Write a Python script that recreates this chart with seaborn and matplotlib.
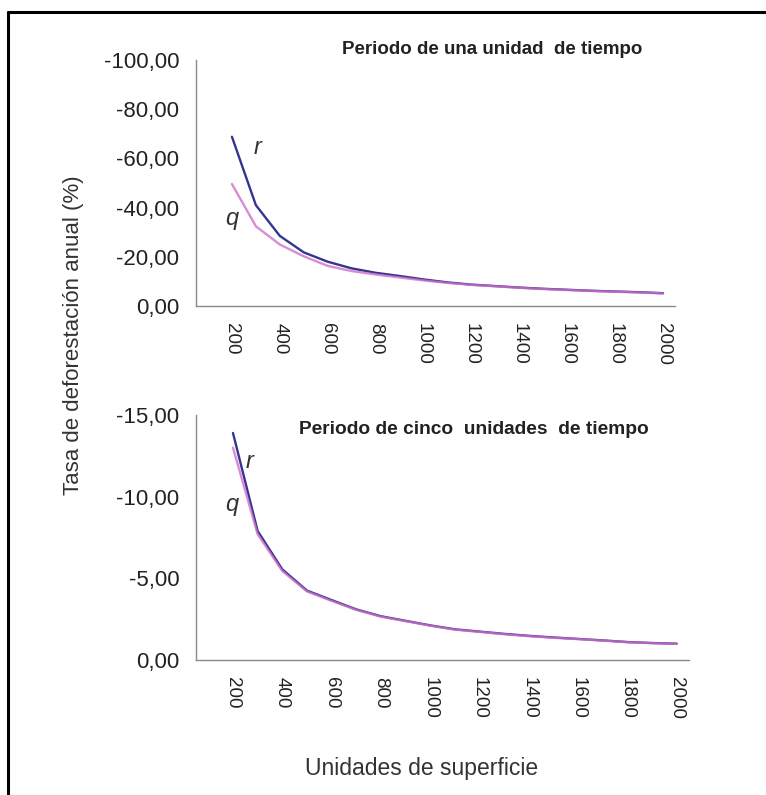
import matplotlib
matplotlib.use("Agg")
import matplotlib.pyplot as plt
from matplotlib.ticker import FixedLocator, FuncFormatter
from matplotlib.lines import Line2D
import numpy as np
import pandas as pd
import seaborn as sns

# Surface units (x axis categories)
superficie = [200, 300, 400, 500, 600, 700, 800, 900, 1000, 1100,
              1200, 1300, 1400, 1500, 1600, 1700, 1800, 1900, 2000]
x_tick_labels = [200, 400, 600, 800, 1000, 1200, 1400, 1600, 1800, 2000]

# Annual deforestation rate (%), one time-unit period
r_una = [-68.8, -41.0, -28.5, -21.8, -18.0, -15.3, -13.5, -12.2, -10.8, -9.6,
         -8.7, -8.1, -7.5, -7.0, -6.6, -6.2, -5.9, -5.6, -5.2]
q_una = [-49.6, -32.4, -25.0, -20.2, -16.3, -14.2, -12.8, -11.6, -10.4, -9.4,
         -8.6, -8.0, -7.4, -6.9, -6.5, -6.1, -5.8, -5.5, -5.1]

# Annual deforestation rate (%), five time-unit period
r_cinco = [-13.9, -7.9, -5.55, -4.25, -3.67, -3.10, -2.68, -2.40, -2.12, -1.88,
           -1.74, -1.60, -1.48, -1.38, -1.29, -1.20, -1.10, -1.04, -1.00]
q_cinco = [-13.0, -7.7, -5.45, -4.20, -3.62, -3.07, -2.65, -2.38, -2.10, -1.86,
           -1.72, -1.58, -1.46, -1.36, -1.28, -1.19, -1.09, -1.03, -0.99]

sns.set_style("white")
plt.rcParams["font.family"] = ["Liberation Sans", "DejaVu Sans"]

W, H = 766, 795
fig = plt.figure(figsize=(W / 100, H / 100), dpi=100)

def fig_axes(x0, y0, x1, y1):
    return fig.add_axes([x0 / W, 1 - y1 / H, (x1 - x0) / W, (y1 - y0) / H])

ax_top = fig_axes(196, 60, 675, 306)
ax_bot = fig_axes(196, 415, 689, 660)

palette = {"r": "#34358f", "q": "#d070c8"}
grey = "#8a8a8a"

def comma_fmt(v, pos):
    if abs(v) < 1e-9:
        v = 0.0
    return f"{v:.2f}".replace(".", ",")

def draw_panel(ax, r_vals, q_vals, ymin, step, title, title_xy, title_size,
               r_xy, q_xy):
    # r first, q drawn over it
    df = pd.DataFrame({
        "superficie": superficie * 2,
        "tasa": list(r_vals) + list(q_vals),
        "serie": ["r"] * len(r_vals) + ["q"] * len(q_vals),
    })
    sns.lineplot(data=df, x="superficie", y="tasa", hue="serie",
                 hue_order=["r", "q"], palette=palette, linewidth=1.7,
                 legend=False, ax=ax, sort=False)
    for ln in ax.get_lines():
        if ln.get_color() == palette["q"]:
            ln.set_alpha(0.8)
    ax.set_xlim(50, 2050)
    ax.set_ylim(0, ymin)
    ax.yaxis.set_major_locator(FixedLocator(np.arange(0, ymin - step / 2, -step)))
    ax.yaxis.set_major_formatter(FuncFormatter(comma_fmt))
    ax.xaxis.set_major_locator(FixedLocator(x_tick_labels))
    ax.xaxis.set_minor_locator(FixedLocator(np.arange(150, 2051, 100)))
    ax.set_xticklabels([str(v) for v in x_tick_labels], rotation=-90)
    ax.tick_params(axis="x", which="major", length=0, pad=12,
                   labelsize=13.5, labelcolor="#222222")
    ax.tick_params(axis="x", which="minor", length=5, direction="in",
                   color=grey, width=0.9)
    ax.tick_params(axis="y", which="major", length=5, direction="out",
                   color=grey, width=0.9, labelsize=16, labelcolor="#222222",
                   pad=7)
    for side in ("top", "right"):
        ax.spines[side].set_visible(False)
    for side in ("left", "bottom"):
        ax.spines[side].set_color(grey)
        ax.spines[side].set_linewidth(1.0)
    ax.set_xlabel("")
    ax.set_ylabel("")
    fig.text(title_xy[0] / W, 1 - title_xy[1] / H, title, ha="center",
             va="center", fontsize=title_size, fontweight="bold",
             color="#222222")
    fig.text(r_xy[0] / W, 1 - r_xy[1] / H, "r", ha="center", va="center",
             fontsize=17, style="italic", color="#333333")
    fig.text(q_xy[0] / W, 1 - q_xy[1] / H, "q", ha="center", va="center",
             fontsize=17, style="italic", color="#333333")

draw_panel(ax_top, r_una, q_una, -100, 20,
           "Periodo de una unidad  de tiempo", (492, 50), 13.5,
           (258, 147), (232, 218))
draw_panel(ax_bot, r_cinco, q_cinco, -15, 5,
           "Periodo de cinco  unidades  de tiempo", (474, 430), 13.8,
           (250, 461), (232, 504))

fig.text(74 / W, 1 - 335 / H, "Tasa de deforestación anual (%)", rotation=90,
         ha="center", va="center", fontsize=16, color="#333333")
fig.text(422 / W, 1 - 768 / H, "Unidades de superficie", ha="center",
         va="center", fontsize=16.5, color="#333333")

# Outer frame (top and left edges)
fig.add_artist(Line2D([8 / W, 1.0], [1 - 12 / H, 1 - 12 / H],
                      transform=fig.transFigure, color="black", linewidth=2.2))
fig.add_artist(Line2D([8 / W, 8 / W], [1 - 12 / H, 0.0],
                      transform=fig.transFigure, color="black", linewidth=2.2))

fig.savefig("out.png", dpi=100, facecolor="white")
